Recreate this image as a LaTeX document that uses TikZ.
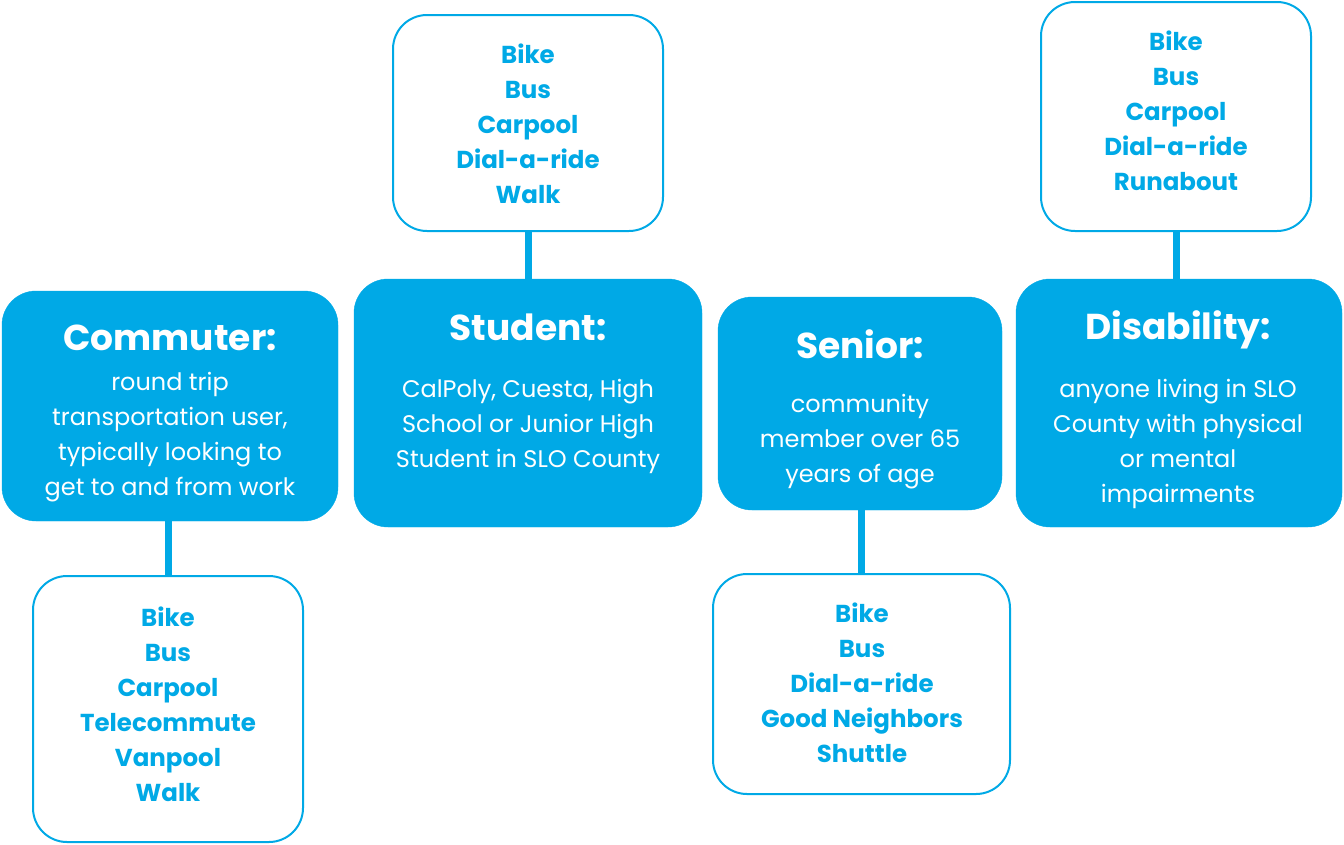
\documentclass[tikz,border=0pt]{standalone}
\usepackage{fontspec}
\setmainfont{Poppins}
\definecolor{sky}{RGB}{0,169,230}
\tikzset{
  catbox/.style={fill=sky, draw=sky, rounded corners=34pt, inner sep=0pt},
  listbox/.style={fill=white, draw=sky, line width=2pt, rounded corners=34pt, inner sep=0pt},
  link/.style={draw=sky, line width=7pt},
  ttl/.style={text=white, font=\fontsize{36}{42}\selectfont\bfseries},
  desc/.style={text=white, align=center, font=\fontsize{24}{35}\selectfont},
  items/.style={text=sky, align=center, font=\fontsize{24.5}{35}\selectfont\bfseries},
}
\begin{document}
\begin{tikzpicture}[x=1pt,y=-1pt]
\useasboundingbox (0,0) rectangle (1344,844);
% category boxes
\node[catbox, minimum width=336pt, minimum height=230pt] (com) at (170,406) {};
\node[catbox, minimum width=348pt, minimum height=248pt] (stu) at (528,403) {};
\node[catbox, minimum width=284pt, minimum height=213pt] (sen) at (860,403.5) {};
\node[catbox, minimum width=326pt, minimum height=248pt] (dis) at (1179,403) {};
% list boxes
\node[listbox, minimum width=270pt, minimum height=266pt] (coml) at (168,709) {};
\node[listbox, minimum width=270pt, minimum height=216pt] (stul) at (528,123) {};
\node[listbox, minimum width=297pt, minimum height=220pt] (senl) at (861.5,684) {};
\node[listbox, minimum width=270pt, minimum height=229pt] (disl) at (1176,116.5) {};
% connectors
\draw[link] (com.south -| coml.north) -- (coml.north);
\draw[link] (stul.south) -- (stul.south |- stu.north);
\draw[link] (sen.south -| senl.north) -- (senl.north);
\draw[link] (disl.south) -- (disl.south |- dis.north);
% titles
\node[ttl] (comt) at (170,338) {Commuter:};
\node[ttl] (stut) at (528,327) {Student:};
\node[ttl] (sent) at (860,344) {Senior:};
\node[ttl] (dist) at (1178,330) {Disability:};
% descriptions
\node[desc] (comd) at (170,437.5) {round trip\\transportation user,\\typically looking to\\get to and from work};
\node[desc] (stud) at (528,426.5) {CalPoly, Cuesta, High\\School or Junior High\\Student in SLO County};
\node[desc] (send) at (860,442) {community\\member over 65\\years of age};
\node[desc] (disd) at (1178,443.5) {anyone living in SLO\\County with physical\\or mental\\impairments};
% lists
\node[items] (comi) at (168,704) {Bike\\Bus\\Carpool\\Telecommute\\Vanpool\\Walk};
\node[items] (stui) at (528,124) {Bike\\Bus\\Carpool\\Dial-a-ride\\Walk};
\node[items] (seni) at (862,683) {Bike\\Bus\\Dial-a-ride\\Good Neighbors\\Shuttle};
\node[items] (disi) at (1176,110.5) {Bike\\Bus\\Carpool\\Dial-a-ride\\Runabout};
\end{tikzpicture}
\end{document}
